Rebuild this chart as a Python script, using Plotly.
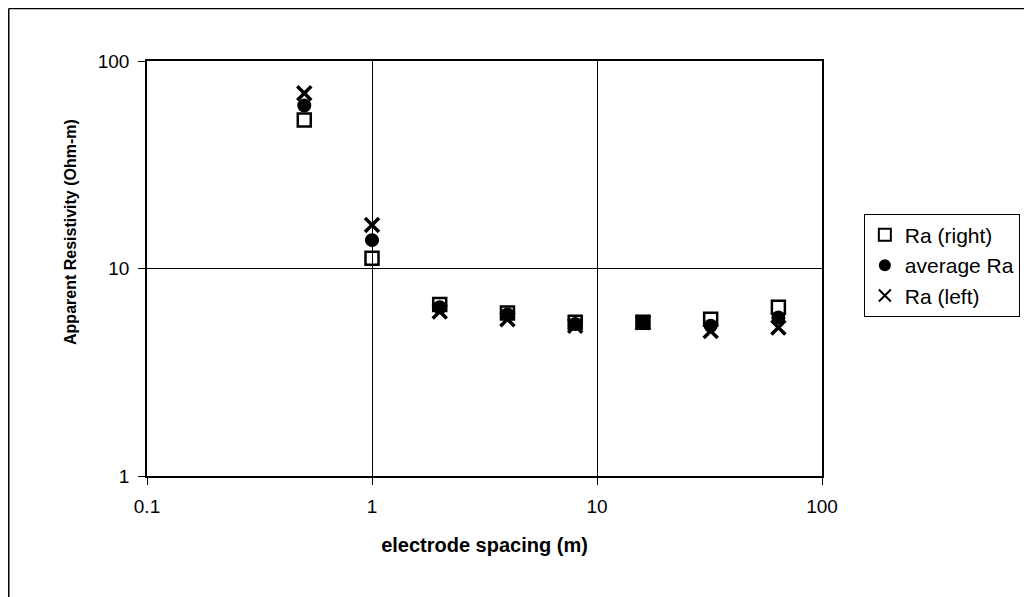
import plotly.graph_objects as go

spacing = [0.5, 1, 2, 4, 8, 16, 32, 64]
ra_right = [52, 11.2, 6.7, 6.1, 5.5, 5.5, 5.7, 6.5]
ra_avg = [61, 13.7, 6.5, 6.0, 5.4, 5.5, 5.3, 5.8]
ra_left = [70, 16.2, 6.2, 5.7, 5.3, 5.5, 5.0, 5.2]

x_ticks = [0.1, 1, 10, 100]
y_ticks = [1, 10, 100]

FONT = "Liberation Sans, Arial, sans-serif"

fig = go.Figure()
fig.add_trace(go.Scatter(
    x=spacing, y=ra_right, mode="markers", name="Ra (right)",
    marker=dict(symbol="square-open", size=13, color="black", line=dict(width=2.5)),
))
fig.add_trace(go.Scatter(
    x=spacing, y=ra_avg, mode="markers", name="average Ra",
    marker=dict(symbol="circle", size=14, color="black"),
))
fig.add_trace(go.Scatter(
    x=spacing, y=ra_left, mode="markers", name="Ra (left)",
    marker=dict(symbol="x-thin", size=14, color="black", line=dict(width=3.5, color="black")),
))

axis_common = dict(
    type="log", showline=True, linecolor="black", linewidth=1.5, mirror=True,
    showgrid=True, gridcolor="black", gridwidth=1,
    ticks="outside", ticklen=7, tickcolor="black",
    tickfont=dict(size=19, color="black", family=FONT),
    zeroline=False,
)

fig.update_xaxes(
    range=[-1, 2], tickvals=x_ticks, ticktext=[str(v) for v in x_ticks],
    ticklabelstandoff=5,
    title=dict(text="<b>electrode spacing (m)</b>", font=dict(size=20, color="black", family=FONT), standoff=22),
    **axis_common,
)
fig.update_yaxes(
    range=[0, 2], tickvals=y_ticks, ticktext=[str(v) for v in y_ticks],
    ticklabelstandoff=5,
    **axis_common,
)

fig.update_layout(
    width=1024, height=589,
    margin=dict(l=139, r=210, t=53, b=121),
    paper_bgcolor="white", plot_bgcolor="white",
    font=dict(family=FONT, color="black", size=19),
    legend=dict(
        x=1.062, y=0.632, xanchor="left", yanchor="top",
        bordercolor="black", borderwidth=1, bgcolor="white",
        font=dict(size=21, family=FONT), itemsizing="constant",
        itemwidth=30, tracegroupgap=0,
    ),
    annotations=[
        dict(text="<b>Apparent Resistivity (Ohm-m)</b>", xref="paper", yref="paper",
             x=-0.1126, y=0.588, xanchor="center", yanchor="middle",
             textangle=-90, showarrow=False,
             font=dict(size=16, color="black", family=FONT)),
    ],
    shapes=[
        dict(type="line", xref="paper", yref="paper", x0=-0.2048, x1=-0.2048, y0=1.1265, y1=-0.3,
             line=dict(color="black", width=1.5)),
        dict(type="line", xref="paper", yref="paper", x0=-0.2048, x1=1.32, y0=1.1265, y1=1.1265,
             line=dict(color="black", width=1.5)),
    ],
)

fig.write_html("out.html")
